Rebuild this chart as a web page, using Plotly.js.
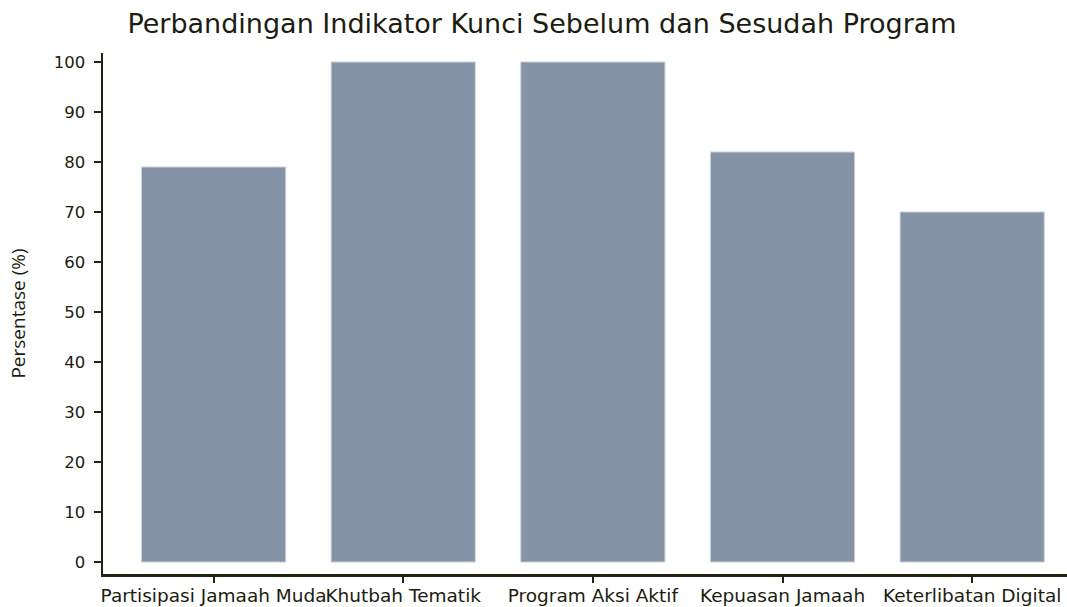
<!DOCTYPE html>
<html>
<head>
<meta charset="utf-8">
<script src="https://cdn.plot.ly/plotly-3.0.1.min.js"></script>
<style>html,body{margin:0;padding:0;background:#fff;}#chart{width:1067px;height:607px;}</style>
</head>
<body>
<div id="chart"></div>
<script>
const categories = ["Partisipasi Jamaah Muda", "Khutbah Tematik", "Program Aksi Aktif", "Kepuasan Jamaah", "Keterlibatan Digital"];
const values = [79, 100, 100, 82, 70];
const yTicks = [0, 10, 20, 30, 40, 50, 60, 70, 80, 90, 100];

const trace = {
  type: "bar",
  x: categories,
  y: values,
  marker: {color: "#8593a7", line: {color: "#c9d0da", width: 1}},
  hoverinfo: "x+y"
};

const layout = {
  width: 1067, height: 607,
  paper_bgcolor: "#ffffff", plot_bgcolor: "#ffffff",
  margin: {l: 103, r: 0, t: 53, b: 33, pad: 0},
  bargap: 0.24,
  showlegend: false,
  title: {text: "Perbandingan Indikator Kunci Sebelum dan Sesudah Program",
          font: {family: "DejaVu Sans", size: 27, color: "#1c1c10"},
          x: 0.508, xanchor: "center", y: 0.962, yanchor: "middle"},
  xaxis: {
    type: "category", range: [-0.583, 4.5],
    showline: true, linecolor: "#222214", linewidth: 2.5,
    ticks: "outside", ticklen: 6, tickwidth: 2, tickcolor: "#222214",
    ticklabelstandoff: -3,
    tickangle: 0, automargin: false,
    showgrid: false, zeroline: false,
    tickfont: {family: "DejaVu Sans", size: 18.5, color: "#1c1c10"}
  },
  yaxis: {
    range: [-2.4, 101.8], tickvals: yTicks,
    showline: true, linecolor: "#222214", linewidth: 2.5,
    ticks: "outside", ticklen: 7, tickwidth: 2, tickcolor: "#222214",
    ticklabelstandoff: 5,
    showgrid: false, zeroline: false,
    tickfont: {family: "DejaVu Sans", size: 16.5, color: "#1c1c10"},
    title: {text: "Persentase (%)", font: {family: "Open Sans", size: 19, color: "#1c1c10"}, standoff: 23}
  }
};

Plotly.newPlot("chart", [trace], layout, {displayModeBar: false, staticPlot: true});
</script>
</body>
</html>
